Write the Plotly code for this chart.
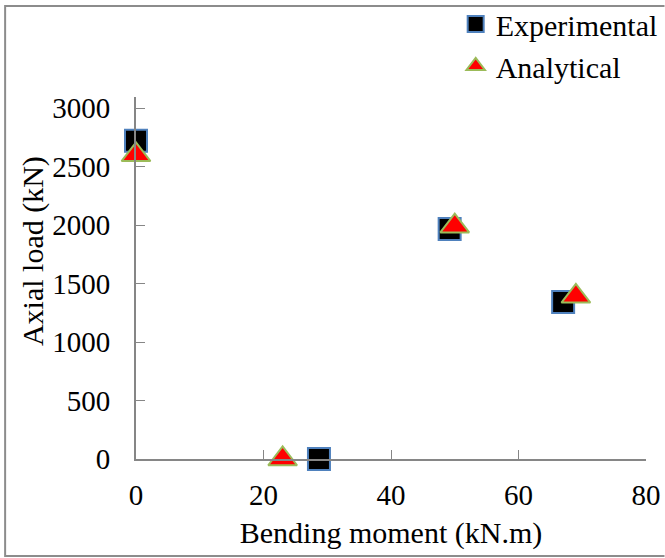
import plotly.graph_objects as go

exp_moment = [0, 28.7, 49.2, 67.0]
exp_load = [2720, 0, 1966, 1342]
ana_moment = [0, 23.0, 50.0, 69.0]
ana_load = [2600, 0, 1990, 1390]
x_ticks = [0, 20, 40, 60, 80]
y_ticks = [0, 500, 1000, 1500, 2000, 2500, 3000]

W, H = 665, 558
L, R, T, B = 136, 18.5, 97, 99
pw, ph = W - L - R, H - T - B

def px_x(p):
    return (p - L) / pw

def px_y(p):
    return (H - B - p) / ph

FONT = "Liberation Serif, Times New Roman, serif"
AX = "#868686"

border_path = "M {r},{t} L {l},{t} L {l},{b} L {r},{b}".format(
    l=px_x(5), r=px_x(665), t=px_y(6), b=px_y(556))

fig = go.Figure()
fig.add_trace(go.Scatter(
    x=exp_moment, y=exp_load, mode="markers", name="Experimental",
    marker=dict(symbol="square", size=22, color="black",
                line=dict(color="#4F81BD", width=2)),
    cliponaxis=False))
fig.add_trace(go.Scatter(
    x=ana_moment, y=ana_load, mode="markers", name="Analytical",
    marker=dict(symbol="triangle-up", size=25, color="#FF0000",
                line=dict(color="#9BBB59", width=2)),
    cliponaxis=False))

fig.update_layout(
    width=W, height=H,
    margin=dict(l=L, r=R, t=T, b=B, pad=0, autoexpand=False),
    paper_bgcolor="white", plot_bgcolor="white",
    font=dict(family=FONT, size=29, color="black"),
    showlegend=True,
    legend=dict(x=px_x(456), y=px_y(-2), xanchor="left", yanchor="top",
                bgcolor="rgba(0,0,0,0)", font=dict(size=30), tracegroupgap=0,
                itemsizing="trace"),
    xaxis=dict(range=[0, 80], tickvals=x_ticks, ticks="inside", ticklen=9,
               tickcolor=AX, tickwidth=1, showline=True, linecolor=AX, linewidth=2,
               showgrid=False, zeroline=False, ticklabelstandoff=9, automargin=False,
               title=dict(text="Bending moment (kN.m)", font=dict(size=30), standoff=12)),
    yaxis=dict(range=[0, 3094], tickvals=y_ticks, ticks="inside", ticklen=9,
               tickcolor=AX, tickwidth=1, showline=True, linecolor=AX, linewidth=2,
               showgrid=False, zeroline=False, ticklabelstandoff=18, automargin=False),
    annotations=[dict(text="Axial load (kN)", textangle=-90, xref="paper", yref="paper",
                      x=px_x(33), y=px_y(251), showarrow=False,
                      font=dict(size=30), xanchor="center", yanchor="middle")],
    shapes=[dict(type="path", xref="paper", yref="paper", path=border_path,
                 line=dict(color="#8C8C8C", width=2), layer="below")],
)

fig.write_html("out.html", config={"displayModeBar": False},
               post_script="document.body.style.margin='0';document.body.style.overflow='hidden';")
